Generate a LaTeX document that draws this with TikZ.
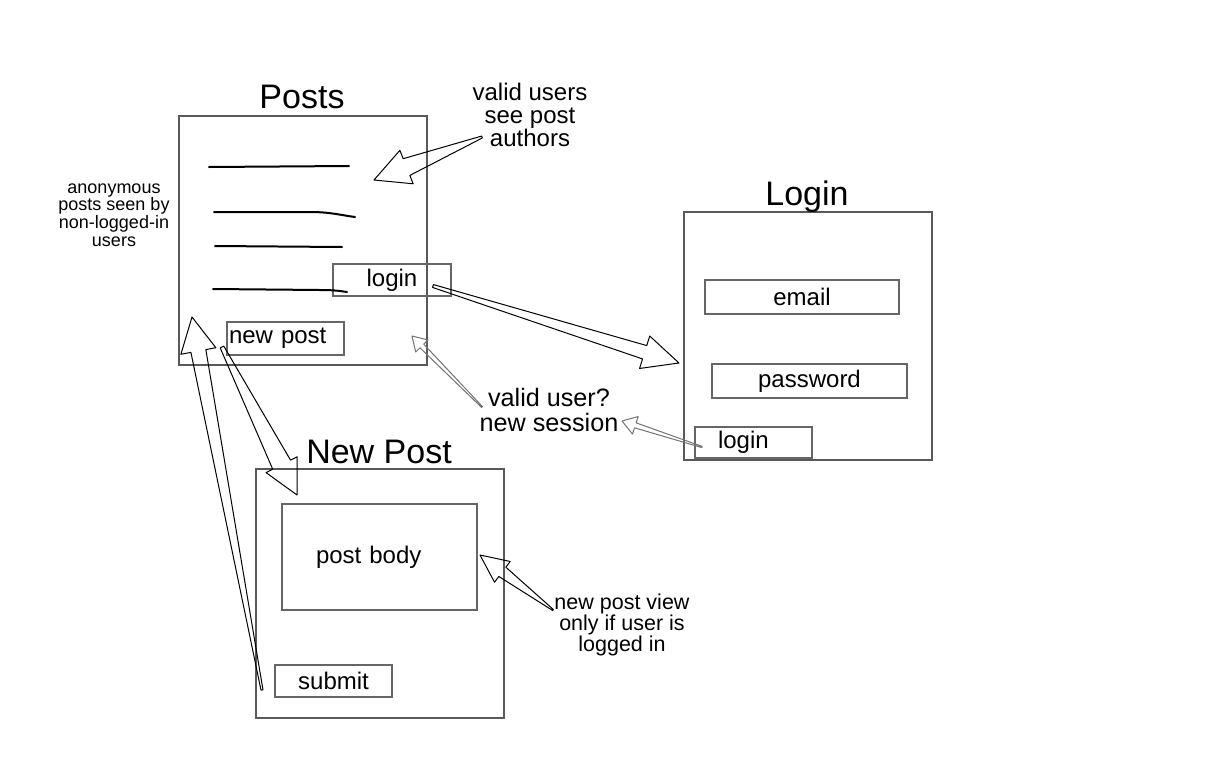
\documentclass[tikz,border=0pt]{standalone}
\usepackage{fontspec}
\setmainfont{Liberation Sans}
\usetikzlibrary{calc}
\usetikzlibrary{positioning}
\tikzset{
	tail half/.store in=\artail,
	neck half/.store in=\arneck,
	head half/.store in=\arhead,
	head len/.store in=\arlen,
	tail half=0.5pt, neck half=4pt, head half=9pt, head len=17pt,
	frame/.style={
		draw=black!65,
		line width=0.7pt,
		rectangle,
		inner sep=0pt,
	},
	field/.style={
		draw=black!60,
		line width=0.7pt,
		rectangle,
		inner sep=0pt,
		font=\fontsize{12}{14}\selectfont,
	},
	title/.style={
		anchor=base,
		font=\fontsize{17}{20}\selectfont,
	},
	note/.style={
		align=center,
		inner sep=0pt,
	},
	scribble/.style={
		line width=1pt,
		line cap=round,
	},
	blockarrow/.style={
		draw=black,
		line width=0.5pt,
		line join=round,
		to path={
			($(\tikztotarget)!\arlen!(\tikztostart)$) coordinate (ar-n)
			($(\tikztostart)!\artail!90:(\tikztotarget)$)
			-- ($(ar-n)!\arneck!90:(\tikztotarget)$)
			-- ($(ar-n)!\arhead!90:(\tikztotarget)$)
			-- (\tikztotarget)
			-- ($(ar-n)!\arhead!-90:(\tikztotarget)$)
			-- ($(ar-n)!\arneck!-90:(\tikztotarget)$)
			-- ($(\tikztostart)!\artail!-90:(\tikztotarget)$)
			-- cycle
		}
	},
	faint/.style={
		draw=black!55,
		tail half=0.3pt, neck half=1.3pt, head half=4.3pt, head len=7pt,
	},
}

\begin{document}
\begin{tikzpicture}[x=0.5pt, y=-0.5pt]
	\useasboundingbox (0,0) rectangle (1212,761);

	% posts page
	\node[frame, minimum width=124pt, minimum height=124.5pt]	(posts) at (303,240.5) {};
	\node[title]	(postsTitle) at (302,108) {Posts};
	\node[field, minimum width=59pt, minimum height=16pt]	(postsLogin) at (392,280) {login};
	\node[field, minimum height=16.5pt, inner xsep=1pt, text width=56.5pt, align=left]	(newPostBtn) at (285.5,338.5) {new post};
	\draw[scribble] (209,167) -- (349,166);
	\draw[scribble] (214,212) -- (310,212) .. controls (330,212) and (340,215) .. (355,217);
	\draw[scribble] (215,246) -- (342,247);
	\draw[scribble] (213,289) -- (320,290) .. controls (335,290) and (340,291) .. (347,292);

	% login page
	\node[frame, minimum width=124pt, minimum height=124pt]	(login) at (808,336) {};
	\node[title]	(loginTitle) at (807,205) {Login};
	\node[field, minimum width=97pt, minimum height=17pt]	(email) at (802,297) {email};
	\node[field, minimum width=97.5pt, minimum height=17pt]	(password) at (809.5,381) {password};
	\node[field, minimum height=15.5pt, inner xsep=11.5pt, text width=35.5pt, align=left]	(loginBtn) at (753.5,442.5) {login};

	% new post page
	\node[frame, minimum width=124pt, minimum height=124.5pt]	(newPost) at (380,593.5) {};
	\node[title]	(newPostTitle) at (379,463) {New Post};
	\node[field, minimum height=53pt, inner xsep=17pt, text width=63.5pt, align=left]	(postBody) at (379.5,557) {post body};
	\node[field, minimum width=58.5pt, minimum height=16pt]	(submit) at (333.5,681) {submit};

	% notes
	\node[note, font=\fontsize{12}{11.5}\selectfont]	(noteAuthors) at (530,115) {valid users\\see post\\authors};
	\node[note, font=\fontsize{9}{8.8}\selectfont]	(noteAnon) at (114,215) {anonymous\\posts seen by\\non-logged-in\\users};
	\node[note, font=\fontsize{12.6}{12.5}\selectfont]	(noteSession) at (549,410) {valid user?\\new session};
	\node[note, font=\fontsize{10.75}{10.5}\selectfont]	(noteView) at (622,625) {new post view\\only if user is\\logged in};

	% arrow ends
	\coordinate (authorsTail) at (482,137);
	\coordinate (authorsTip) at (374,180);
	\coordinate (loginTail) at (433,286);
	\coordinate (loginTip) at (679,363);
	\coordinate (sessionTail) at (482,407);
	\coordinate (sessionTip) at (412,336);
	\coordinate (checkTail) at (702,447);
	\coordinate (checkTip) at (622,421);
	\coordinate (viewTail) at (553,610);
	\coordinate (viewTip) at (480,555);
	\coordinate (newTail) at (222,347);
	\coordinate (newTip) at (297,495);
	\coordinate (submitTail) at (262,690);
	\coordinate (submitTip) at (192,317);

	\draw[blockarrow, neck half=4.5pt, head half=9pt, head len=17.5pt]	(authorsTail) to (authorsTip);
	\draw[blockarrow, tail half=0.75pt, neck half=3.5pt, head half=8.5pt, head len=18pt]	(loginTail) to (loginTip);
	\draw[blockarrow, faint]	(sessionTail) to (sessionTip);
	\draw[blockarrow, faint, head half=4.6pt]	(checkTail) to (checkTip);
	\draw[blockarrow, tail half=0.3pt, neck half=2.9pt, head half=6.5pt, head len=14pt]	(viewTail) to (viewTip);
	\draw[blockarrow, tail half=1pt, neck half=5pt, head half=8.75pt, head len=17pt]	(newTail) to (newTip);
	\draw[blockarrow, neck half=3.8pt, head half=8.9pt, head len=17.3pt]	(submitTail) to (submitTip);

\end{tikzpicture}
\end{document}
